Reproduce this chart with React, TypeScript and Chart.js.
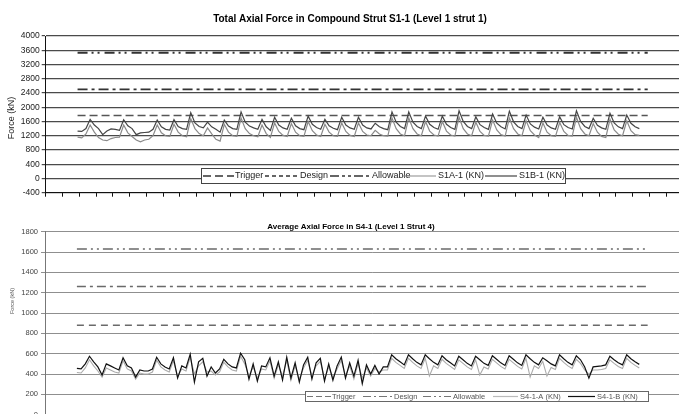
import React, { useEffect, useRef } from 'react';
import { Chart, registerables } from 'chart.js';

Chart.register(...registerables);

// ---------- shared time axis (one unit per tick) ----------
const X_MIN = 0;
const X_MAX = 39;
const SERIES_START = 1.9;
const SERIES_STEP = 0.25;
const REF_START = 1.9;
const REF_END = 35.9;

// ---------- top chart: Total Axial Force in Compound Strut S1-1 ----------
const TOP_Y_MIN = -400;
const TOP_Y_MAX = 4000;
const TOP_Y_STEP = 400;
const TOP_TRIGGER = 1770;
const TOP_DESIGN = 2500;
const TOP_ALLOWABLE = 3530;

const TOP_S1B = [
  1330, 1320, 1400, 1660, 1500, 1400, 1230, 1330, 1390, 1380,
  1350, 1650, 1480, 1400, 1230, 1280, 1290, 1300, 1380, 1640,
  1450, 1380, 1360, 1650, 1460, 1400, 1380, 1850, 1560, 1460,
  1420, 1580, 1450, 1380, 1300, 1640, 1470, 1400, 1380, 1870,
  1580, 1470, 1420, 1380, 1660, 1450, 1350, 1720, 1500, 1420,
  1380, 1690, 1480, 1400, 1370, 1750, 1520, 1430, 1380, 1660,
  1480, 1410, 1370, 1720, 1500, 1420, 1380, 1720, 1500, 1420,
  1390, 1550, 1450, 1400, 1370, 1870, 1580, 1460, 1400, 1870,
  1580, 1460, 1400, 1750, 1520, 1430, 1380, 1750, 1520, 1430,
  1380, 1900, 1600, 1460, 1400, 1730, 1510, 1430, 1380, 1810,
  1550, 1450, 1390, 1890, 1590, 1460, 1400, 1780, 1530, 1440,
  1390, 1720, 1500, 1420, 1380, 1730, 1510, 1430, 1390, 1900,
  1600, 1460, 1400, 1690, 1490, 1420, 1380, 1830, 1560, 1450,
  1400, 1780, 1550, 1450, 1400,
];

const TOP_S1A = [
  1160, 1140, 1250, 1500, 1300, 1150, 1080, 1060, 1120, 1150,
  1160, 1500, 1280, 1180, 1080, 1030, 1080, 1100, 1200, 1500,
  1280, 1200, 1180, 1520, 1300, 1200, 1170, 1680, 1400, 1260,
  1200, 1420, 1250, 1100, 1050, 1520, 1300, 1200, 1180, 1700,
  1400, 1260, 1200, 1170, 1500, 1260, 1150, 1560, 1320, 1210,
  1180, 1540, 1300, 1200, 1180, 1600, 1340, 1220, 1180, 1520,
  1300, 1200, 1180, 1560, 1320, 1210, 1180, 1560, 1320, 1220,
  1200, 1350, 1250, 1200, 1190, 1700, 1400, 1250, 1200, 1700,
  1400, 1250, 1200, 1600, 1330, 1220, 1190, 1600, 1330, 1220,
  1190, 1720, 1400, 1250, 1200, 1580, 1320, 1210, 1190, 1640,
  1360, 1230, 1190, 1700, 1400, 1250, 1200, 1620, 1340, 1220,
  1150, 1560, 1300, 1200, 1180, 1570, 1320, 1210, 1190, 1720,
  1400, 1250, 1200, 1540, 1300, 1180, 1150, 1660, 1360, 1240,
  1200, 1620, 1340, 1230, 1210,
];

// ---------- bottom chart: Average Axial Force in S4-1 ----------
const BOT_Y_MIN = 0;
const BOT_Y_MAX = 1800;
const BOT_Y_STEP = 200;
const BOT_TRIGGER = 880;
const BOT_DESIGN = 1260;
const BOT_ALLOWABLE = 1630;

const BOT_S4B = [
  455, 450, 500, 575, 520, 470, 390, 500, 480, 460,
  440, 560, 480, 460, 370, 440, 430, 430, 450, 565,
  500, 470, 450, 560, 360, 480, 460, 595, 320, 520,
  555, 380, 470, 410, 450, 545, 500, 470, 460, 605,
  540, 350, 500, 330, 480, 470, 560, 380, 520, 340,
  565, 360, 510, 320, 490, 565, 350, 510, 555, 330,
  500, 340, 480, 567, 360, 510, 380, 535, 305, 490,
  400, 485, 400, 470, 470, 590, 550, 520, 490, 590,
  550, 515, 490, 590, 550, 515, 490, 580, 540, 510,
  480, 575, 540, 505, 480, 575, 540, 505, 485, 580,
  545, 510, 485, 580, 545, 510, 485, 590, 550, 515,
  490, 560, 530, 500, 480, 590, 550, 515, 490, 580,
  540, 470, 360, 470, 475, 480, 490, 575, 540, 510,
  490, 590, 550, 520, 495,
];

const BOT_S4A = [
  415, 410, 460, 540, 480, 430, 370, 460, 440, 420,
  410, 530, 450, 430, 350, 410, 400, 400, 420, 535,
  470, 440, 420, 530, 380, 450, 430, 565, 400, 480,
  520, 420, 430, 390, 420, 515, 470, 440, 430, 575,
  500, 380, 470, 360, 450, 440, 530, 360, 490, 380,
  535, 340, 480, 350, 460, 535, 380, 480, 525, 350,
  470, 360, 450, 535, 380, 480, 350, 505, 360, 460,
  380, 455, 420, 440, 440, 555, 515, 485, 455, 555,
  515, 480, 455, 555, 380, 480, 455, 545, 505, 475,
  445, 540, 505, 470, 445, 540, 390, 470, 450, 545,
  510, 475, 450, 545, 510, 475, 450, 555, 370, 480,
  455, 525, 380, 465, 445, 555, 515, 480, 455, 545,
  505, 440, 400, 440, 440, 445, 455, 540, 505, 475,
  455, 555, 515, 485, 460,
];

const FONT = '"Liberation Sans", Arial, Helvetica, sans-serif';

const seriesPts = (vals: number[]) =>
  vals.map((y, i) => ({ x: SERIES_START + i * SERIES_STEP, y }));
const refPts = (y: number) => [
  { x: REF_START, y },
  { x: REF_END, y },
];
const plainTick = (v: any) => String(v);

type LegendItem = {
  label: string;
  dash: number[];
  color: string;
  width: number;
  x0: number;
  x1: number;
  tx: number;
};

type Overlay = {
  title: string;
  titleFont: string;
  titleX: number;
  titleY: number;
  yTitle: string;
  yTitleFont: string;
  yTitleX: number;
  yTitleY: number;
  box: { x: number; y: number; w: number; h: number };
  boxColor: string;
  legendFont: string;
  textColor: string;
  items: LegendItem[];
};

function overlayPlugin(o: Overlay) {
  return {
    id: 'overlay',
    afterDraw(chart: any) {
      const ctx: CanvasRenderingContext2D = chart.ctx;
      ctx.save();
      ctx.textBaseline = 'middle';
      ctx.fillStyle = '#000';
      ctx.font = o.titleFont;
      ctx.textAlign = 'center';
      ctx.fillText(o.title, o.titleX, o.titleY);
      ctx.save();
      ctx.translate(o.yTitleX, o.yTitleY);
      ctx.rotate(-Math.PI / 2);
      ctx.font = o.yTitleFont;
      ctx.fillStyle = o.textColor;
      ctx.textAlign = 'center';
      ctx.fillText(o.yTitle, 0, 0);
      ctx.restore();
      const b = o.box;
      ctx.fillStyle = '#fff';
      ctx.fillRect(b.x, b.y, b.w, b.h);
      ctx.strokeStyle = o.boxColor;
      ctx.lineWidth = 1;
      ctx.setLineDash([]);
      ctx.strokeRect(b.x + 0.5, b.y + 0.5, b.w, b.h);
      const cy = b.y + b.h / 2 + 0.5;
      ctx.font = o.legendFont;
      ctx.textAlign = 'left';
      for (const it of o.items) {
        ctx.beginPath();
        ctx.setLineDash(it.dash);
        ctx.strokeStyle = it.color;
        ctx.lineWidth = it.width;
        ctx.moveTo(it.x0, cy);
        ctx.lineTo(it.x1, cy);
        ctx.stroke();
        ctx.fillStyle = o.textColor;
        ctx.fillText(it.label, it.tx, cy);
      }
      ctx.restore();
    },
  };
}

function ChartCanvas(props: {
  width: number;
  height: number;
  top: number;
  build: () => any;
}) {
  const ref = useRef<HTMLCanvasElement | null>(null);
  useEffect(() => {
    if (!ref.current) return;
    const chart = new Chart(ref.current, props.build());
    return () => chart.destroy();
  }, []);
  return (
    <canvas
      ref={ref}
      width={props.width}
      height={props.height}
      style={{
        position: 'absolute',
        left: 0,
        top: props.top,
        width: props.width,
        height: props.height,
      }}
    />
  );
}

const CANVAS_W = 710;
const AXIS_LEFT = 45.7;

function buildTop() {
  const refColor = '#333';
  return {
    type: 'line',
    data: {
      datasets: [
        { label: 'S1B-1 (KN)', data: seriesPts(TOP_S1B), borderColor: '#454545', borderWidth: 1.2 },
        { label: 'S1A-1 (KN)', data: seriesPts(TOP_S1A), borderColor: '#8a8a8a', borderWidth: 1.2 },
        { label: 'Trigger', data: refPts(TOP_TRIGGER), borderColor: '#555', borderWidth: 1.5, borderDash: [8, 4] },
        { label: 'Design', data: refPts(TOP_DESIGN), borderColor: refColor, borderWidth: 1.8, borderDash: [10, 4, 3, 4] },
        { label: 'Allowable', data: refPts(TOP_ALLOWABLE), borderColor: refColor, borderWidth: 1.8, borderDash: [10, 4, 2, 4, 2, 5] },
      ],
    },
    options: {
      responsive: false,
      animation: false,
      events: [],
      elements: { point: { radius: 0 }, line: { tension: 0, fill: false } },
      layout: { padding: { left: 0, top: 36, right: CANVAS_W - 699.7, bottom: 0 } },
      plugins: { legend: { display: false }, tooltip: { enabled: false }, title: { display: false } },
      scales: {
        x: {
          type: 'linear',
          min: X_MIN,
          max: X_MAX,
          ticks: { display: false, stepSize: 1, maxTicksLimit: 100 },
          grid: { display: true, drawOnChartArea: false, drawTicks: true, tickLength: 4, color: '#111' },
          border: { display: true, color: '#111', width: 1 },
          afterFit: (s: any) => { s.height = 7.3; },
        },
        y: {
          min: TOP_Y_MIN,
          max: TOP_Y_MAX,
          ticks: { stepSize: TOP_Y_STEP, maxTicksLimit: 30, color: '#222', padding: 2, font: { family: FONT, size: 8.5 }, callback: plainTick },
          grid: { color: '#4a4a4a', lineWidth: 1.2, tickLength: 4 },
          border: { display: true, color: '#111', width: 1 },
          afterFit: (s: any) => { s.width = AXIS_LEFT; },
        },
      },
    },
    plugins: [
      overlayPlugin({
        title: 'Total Axial Force in Compound Strut S1-1 (Level 1 strut 1)',
        titleFont: `bold 10px ${FONT}`,
        titleX: 350,
        titleY: 19,
        yTitle: 'Force (kN)',
        yTitleFont: `9px ${FONT}`,
        yTitleX: 12,
        yTitleY: 118,
        box: { x: 201, y: 168, w: 364, h: 15 },
        boxColor: '#444',
        legendFont: `9px ${FONT}`,
        textColor: '#222',
        items: [
          { label: 'Trigger', dash: [8, 4], color: '#333', width: 1.3, x0: 203, x1: 234, tx: 235 },
          { label: 'Design', dash: [4, 3], color: '#333', width: 1.3, x0: 265, x1: 299, tx: 300 },
          { label: 'Allowable', dash: [9, 3, 3, 3, 3, 3], color: '#333', width: 1.3, x0: 330, x1: 371, tx: 372 },
          { label: 'S1A-1 (KN)', dash: [], color: '#8a8a8a', width: 1.2, x0: 403, x1: 436, tx: 438 },
          { label: 'S1B-1 (KN)', dash: [], color: '#454545', width: 1.2, x0: 485, x1: 517, tx: 519 },
        ],
      }),
    ],
  };
}

function buildBottom() {
  const refColor = '#6a6a6a';
  return {
    type: 'line',
    data: {
      datasets: [
        { label: 'S4-1-B (KN)', data: seriesPts(BOT_S4B), borderColor: '#111', borderWidth: 1.2 },
        { label: 'S4-1-A (KN)', data: seriesPts(BOT_S4A), borderColor: '#ababab', borderWidth: 1.1 },
        { label: 'Trigger', data: refPts(BOT_TRIGGER), borderColor: refColor, borderWidth: 1.5, borderDash: [7, 5] },
        { label: 'Design', data: refPts(BOT_DESIGN), borderColor: refColor, borderWidth: 1.5, borderDash: [9, 4, 3, 4] },
        { label: 'Allowable', data: refPts(BOT_ALLOWABLE), borderColor: refColor, borderWidth: 1.5, borderDash: [10, 4, 2, 4, 2, 4] },
      ],
    },
    options: {
      responsive: false,
      animation: false,
      events: [],
      elements: { point: { radius: 0 }, line: { tension: 0, fill: false } },
      layout: { padding: { left: 0, top: 31.7, right: CANVAS_W - 699.7, bottom: 25.3 } },
      plugins: { legend: { display: false }, tooltip: { enabled: false }, title: { display: false } },
      scales: {
        x: {
          type: 'linear',
          min: X_MIN,
          max: X_MAX,
          display: false,
        },
        y: {
          min: BOT_Y_MIN,
          max: BOT_Y_MAX,
          ticks: { stepSize: BOT_Y_STEP, maxTicksLimit: 30, color: '#444', padding: 3, font: { family: FONT, size: 7.5 }, callback: plainTick },
          grid: { color: '#8f8f8f', lineWidth: 1, tickLength: 4 },
          border: { display: true, color: '#777', width: 1 },
          afterFit: (s: any) => { s.width = AXIS_LEFT - 0.7; },
        },
      },
    },
    plugins: [
      overlayPlugin({
        title: 'Average Axial Force in S4-1 (Level 1 Strut 4)',
        titleFont: `bold 8px ${FONT}`,
        titleX: 351,
        titleY: 27,
        yTitle: 'Force (kN)',
        yTitleFont: `5.5px ${FONT}`,
        yTitleX: 12,
        yTitleY: 101,
        box: { x: 305, y: 191, w: 343, h: 10 },
        boxColor: '#666',
        legendFont: `7.5px ${FONT}`,
        textColor: '#555',
        items: [
          { label: 'Trigger', dash: [6, 3], color: '#777', width: 1.2, x0: 307, x1: 331, tx: 332 },
          { label: 'Design', dash: [8, 3, 2, 3], color: '#777', width: 1.2, x0: 363, x1: 393, tx: 394 },
          { label: 'Allowable', dash: [8, 3, 2, 3, 2, 3], color: '#777', width: 1.2, x0: 423, x1: 451, tx: 453 },
          { label: 'S4-1-A (KN)', dash: [], color: '#bbbbbb', width: 1.2, x0: 493, x1: 518, tx: 520 },
          { label: 'S4-1-B (KN)', dash: [], color: '#111', width: 1.2, x0: 568, x1: 595, tx: 597 },
        ],
      }),
    ],
  };
}

export default function App() {
  return (
    <div
      style={{
        position: 'absolute',
        left: 0,
        top: 0,
        width: 679,
        height: 414,
        overflow: 'hidden',
        background: '#fff',
      }}
    >
      <ChartCanvas width={CANVAS_W} height={200} top={0} build={buildTop} />
      <ChartCanvas width={CANVAS_W} height={240} top={200} build={buildBottom} />
    </div>
  );
}
